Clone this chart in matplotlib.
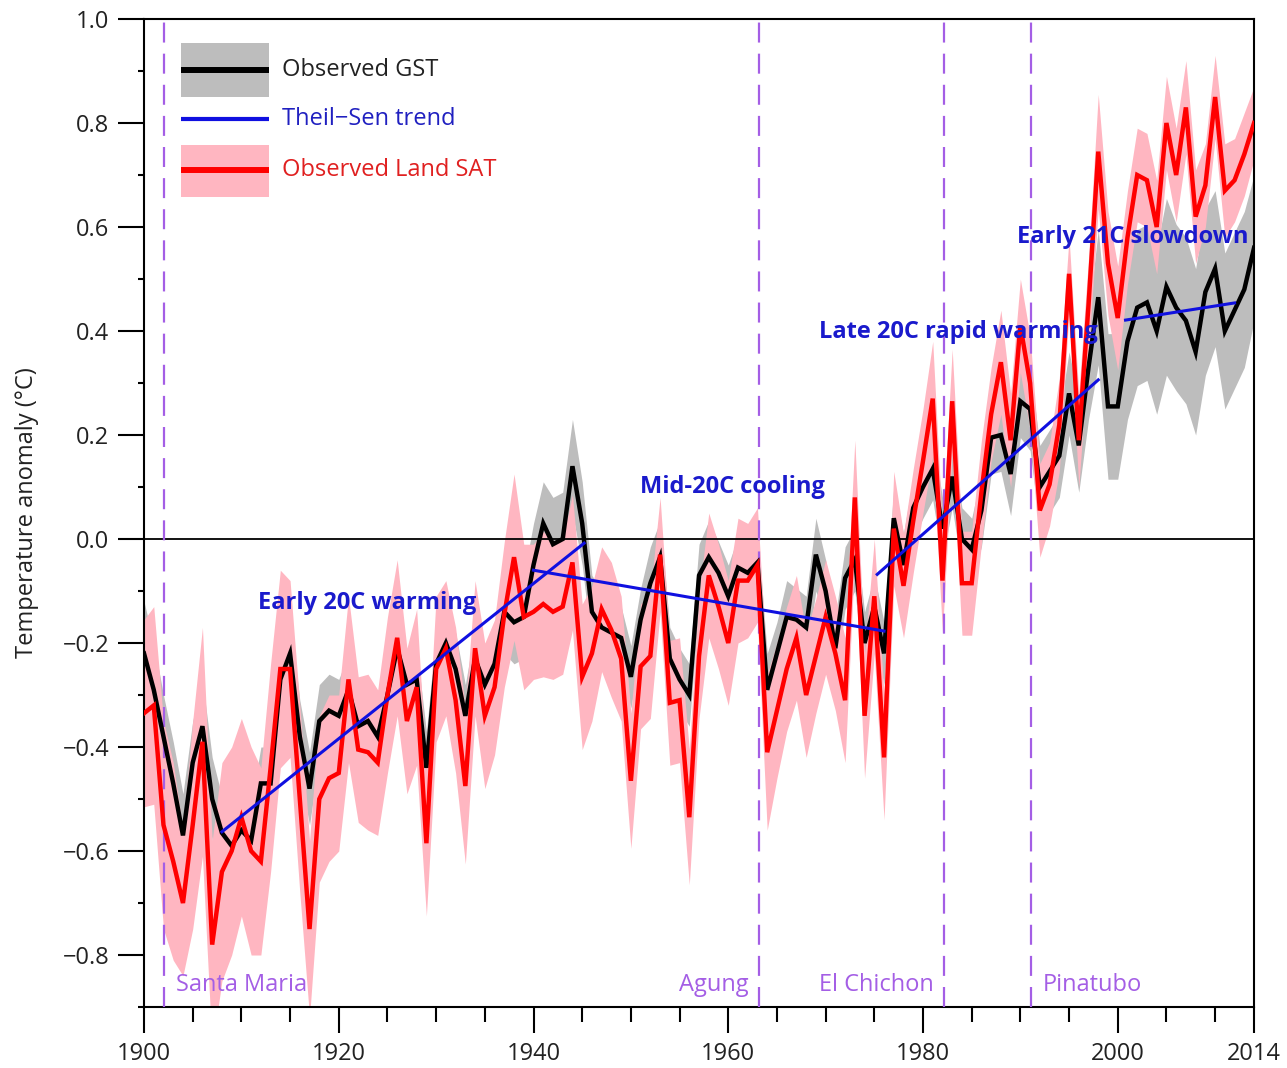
import matplotlib
matplotlib.use('Agg')
from matplotlib import pyplot as plt
from matplotlib.patches import Rectangle
import numpy as np

plt.rcParams['font.family'] = ['Open Sans', 'DejaVu Sans']
plt.rcParams['font.size'] = 17

years = np.arange(1900, 2015)

# observed global surface temperature (black)
gst = [-0.22, -0.29, -0.38, -0.47, -0.57, -0.43, -0.36, -0.50, -0.565, -0.59,
       -0.56, -0.58, -0.47, -0.47, -0.27, -0.22, -0.38, -0.48, -0.35, -0.33,
       -0.34, -0.29, -0.36, -0.35, -0.38, -0.30, -0.21, -0.28, -0.27, -0.44,
       -0.24, -0.20, -0.25, -0.34, -0.23, -0.28, -0.24, -0.14, -0.16, -0.15,
       -0.05, 0.03, -0.01, 0.00, 0.14, 0.03, -0.14, -0.17, -0.18, -0.19,
       -0.265, -0.155, -0.085, -0.035, -0.23, -0.27, -0.30, -0.07, -0.035, -0.065,
       -0.11, -0.055, -0.065, -0.045, -0.29, -0.22, -0.15, -0.155, -0.17, -0.03,
       -0.10, -0.21, -0.075, -0.04, -0.20, -0.13, -0.22, 0.04, -0.05, 0.06,
       0.10, 0.135, 0.02, 0.12, 0.00, -0.02, 0.055, 0.195, 0.20, 0.125,
       0.265, 0.25, 0.10, 0.13, 0.16, 0.28, 0.18, 0.33, 0.465, 0.255,
       0.255, 0.38, 0.445, 0.455, 0.40, 0.485, 0.445, 0.42, 0.36, 0.475,
       0.52, 0.40, 0.44, 0.48, 0.56]

# observed land surface air temperature (red)
land = [-0.335, -0.32, -0.55, -0.62, -0.70, -0.55, -0.39, -0.78, -0.64, -0.60,
        -0.535, -0.60, -0.62, -0.44, -0.25, -0.25, -0.50, -0.75, -0.50, -0.46,
        -0.45, -0.27, -0.405, -0.41, -0.43, -0.30, -0.19, -0.35, -0.285, -0.585,
        -0.25, -0.21, -0.31, -0.475, -0.21, -0.34, -0.285, -0.145, -0.035, -0.15,
        -0.14, -0.125, -0.14, -0.13, -0.045, -0.265, -0.22, -0.135, -0.175, -0.23,
        -0.465, -0.245, -0.225, -0.03, -0.315, -0.31, -0.535, -0.225, -0.07, -0.13,
        -0.20, -0.08, -0.08, -0.05, -0.41, -0.33, -0.25, -0.19, -0.30, -0.225,
        -0.15, -0.22, -0.31, 0.08, -0.34, -0.11, -0.42, 0.02, -0.09, 0.035,
        0.15, 0.27, -0.08, 0.265, -0.085, -0.085, 0.09, 0.24, 0.34, 0.19,
        0.41, 0.30, 0.055, 0.105, 0.22, 0.51, 0.19, 0.45, 0.745, 0.53,
        0.425, 0.58, 0.70, 0.69, 0.60, 0.80, 0.70, 0.83, 0.62, 0.68,
        0.85, 0.67, 0.69, 0.74, 0.80]

# half widths of the uncertainty bands
gst_err = [0.10, 0.09, 0.08, 0.08, 0.08, 0.08, 0.09, 0.08, 0.07, 0.07,
           0.07, 0.07, 0.07, 0.07, 0.07, 0.07, 0.07, 0.07, 0.07, 0.07,
           0.07, 0.07, 0.06, 0.06, 0.06, 0.07, 0.06, 0.06, 0.06, 0.07,
           0.06, 0.06, 0.07, 0.06, 0.06, 0.07, 0.07, 0.08, 0.08, 0.08,
           0.08, 0.08, 0.09, 0.09, 0.09, 0.08, 0.07, 0.07, 0.06, 0.06,
           0.06, 0.06, 0.07, 0.07, 0.06, 0.06, 0.06, 0.06, 0.07, 0.06,
           0.06, 0.06, 0.06, 0.06, 0.07, 0.06, 0.07, 0.06, 0.06, 0.07,
           0.06, 0.06, 0.06, 0.06, 0.06, 0.06, 0.06, 0.06, 0.06, 0.06,
           0.06, 0.06, 0.06, 0.06, 0.06, 0.06, 0.07, 0.07, 0.07, 0.08,
           0.07, 0.08, 0.08, 0.08, 0.08, 0.08, 0.09, 0.10, 0.13, 0.14,
           0.14, 0.15, 0.15, 0.15, 0.16, 0.17, 0.16, 0.16, 0.16, 0.16,
           0.15, 0.15, 0.15, 0.15, 0.14]

land_err = [0.18, 0.19, 0.20, 0.19, 0.14, 0.20, 0.22, 0.20, 0.21, 0.20,
            0.19, 0.20, 0.18, 0.20, 0.19, 0.17, 0.18, 0.17, 0.16, 0.16,
            0.15, 0.16, 0.14, 0.15, 0.14, 0.15, 0.15, 0.14, 0.15, 0.14,
            0.14, 0.13, 0.14, 0.15, 0.13, 0.14, 0.13, 0.14, 0.16, 0.14,
            0.13, 0.14, 0.13, 0.13, 0.13, 0.14, 0.13, 0.12, 0.13, 0.12,
            0.13, 0.12, 0.12, 0.11, 0.12, 0.12, 0.13, 0.12, 0.12, 0.12,
            0.12, 0.12, 0.11, 0.11, 0.15, 0.13, 0.12, 0.12, 0.12, 0.11,
            0.11, 0.11, 0.12, 0.11, 0.12, 0.11, 0.12, 0.11, 0.10, 0.10,
            0.10, 0.11, 0.10, 0.10, 0.10, 0.10, 0.10, 0.09, 0.10, 0.09,
            0.09, 0.09, 0.09, 0.08, 0.09, 0.07, 0.09, 0.09, 0.11, 0.10,
            0.10, 0.09, 0.09, 0.09, 0.09, 0.09, 0.09, 0.09, 0.09, 0.08,
            0.08, 0.09, 0.08, 0.08, 0.07]

# Theil-Sen trend segments
trend_names = ['Early 20C warming', 'Mid-20C cooling', 'Late 20C rapid warming', 'Early 21C slowdown']
trend_x0 = [1908, 1940, 1975.3, 2000.8]
trend_x1 = [1945.2, 1976, 1998, 2012]
trend_y0 = [-0.563, -0.06, -0.068, 0.421]
trend_y1 = [-0.008, -0.177, 0.306, 0.454]
trend_label_x = [1922.9, 1960.4, 1983.6, 2001.5]
trend_label_y = [-0.123, 0.10, 0.398, 0.58]

# volcanic eruptions
volcanoes = ['Santa Maria', 'Agung', 'El Chichon', 'Pinatubo']
volcano_years = [1902.05, 1963.2, 1982.2, 1991.1]

gst = np.array(gst)
land = np.array(land)
gst_err = np.array(gst_err)
land_err = np.array(land_err)

fig = plt.figure(figsize=(12.87, 10.68), dpi=100)
ax = fig.add_axes([0.1119, 0.0571, 0.8625, 0.9251])

gray = '#bdbdbd'
pink = '#ffb6c1'
purple = '#a45ee5'
blue = '#1a1acc'

ax.fill_between(years, gst - gst_err, gst + gst_err, color=gray, lw=0, zorder=1)
ax.fill_between(years, land - land_err, land + land_err, color=pink, lw=0, zorder=2)
ax.axhline(0, color='black', lw=1.3, zorder=2.5)

for name, vy in zip(volcanoes, volcano_years):
    ax.axvline(vy, color=purple, lw=1.6, dashes=(9, 5), zorder=2.6)
    if name in ('Santa Maria', 'Pinatubo'):
        ax.text(vy + 1.2, -0.858, name, color=purple, ha='left', va='center')
    else:
        ax.text(vy - 1.1, -0.858, name, color=purple, ha='right', va='center')

ax.plot(years, gst, color='black', lw=3.2, zorder=3, solid_joinstyle='miter')
ax.plot(years, land, color='#ff0000', lw=3.2, zorder=4, solid_joinstyle='miter')

for i in range(len(trend_names)):
    ax.plot([trend_x0[i], trend_x1[i]], [trend_y0[i], trend_y1[i]], color='#1010e0', lw=2.2, zorder=5)
    ax.text(trend_label_x[i], trend_label_y[i], trend_names[i], color=blue,
            fontweight='bold', ha='center', va='center', zorder=6)

ytick_vals = np.round(np.arange(-0.8, 1.01, 0.2), 1)
ax.set_xlim(1900, 2014)
ax.set_ylim(-0.9, 1.0)
ax.set_xticks([1900, 1920, 1940, 1960, 1980, 2000, 2014])
ax.set_xticks([y for y in range(1905, 2014, 5) if y % 20 != 0], minor=True)
ax.set_yticks(ytick_vals)
ax.set_yticks(np.round(np.arange(-0.9, 1.0, 0.2), 1), minor=True)
ax.set_yticklabels([('%.1f' % (v if abs(v) > 1e-9 else 0.0)).replace('-', '\u2212') for v in ytick_vals])

ax.tick_params(axis='both', which='major', direction='out', length=19, width=1.5, colors='black',
               labelcolor='#222222', labelsize=17)
ax.tick_params(axis='x', which='major', pad=6)
ax.tick_params(axis='y', which='major', pad=6)
ax.tick_params(axis='x', which='minor', direction='out', length=11, width=1.5)
ax.tick_params(axis='y', which='minor', direction='out', length=4.5, width=1.5)
for s in ax.spines.values():
    s.set_linewidth(1.5)

ax.set_ylabel('Temperature anomaly (\u00b0C)', fontsize=17, labelpad=17, color='#222222')

# legend drawn in axes coordinates
tr = ax.transAxes
lx0, lx1, tx = 0.0333, 0.1126, 0.1243
ax.add_patch(Rectangle((lx0, 0.9211), lx1 - lx0, 0.0546, transform=tr, color=gray, lw=0, zorder=10))
ax.plot([lx0, lx1], [0.9484, 0.9484], transform=tr, color='black', lw=4.3, solid_capstyle='butt', zorder=11)
ax.text(tx, 0.9484, 'Observed GST', transform=tr, color='#222222', va='center', ha='left', zorder=11)
ax.plot([lx0, lx1], [0.8988, 0.8988], transform=tr, color='#1010e0', lw=3, solid_capstyle='butt', zorder=11)
ax.text(tx, 0.8988, 'Theil\u2212Sen trend', transform=tr, color='#2020c0', va='center', ha='left', zorder=11)
ax.add_patch(Rectangle((lx0, 0.8198), lx1 - lx0, 0.0527, transform=tr, color=pink, lw=0, zorder=10))
ax.plot([lx0, lx1], [0.8472, 0.8472], transform=tr, color='#ff0000', lw=4.3, solid_capstyle='butt', zorder=11)
ax.text(tx, 0.8472, 'Observed Land SAT', transform=tr, color='#e02020', va='center', ha='left', zorder=11)

plt.savefig('out.png', dpi=100)
